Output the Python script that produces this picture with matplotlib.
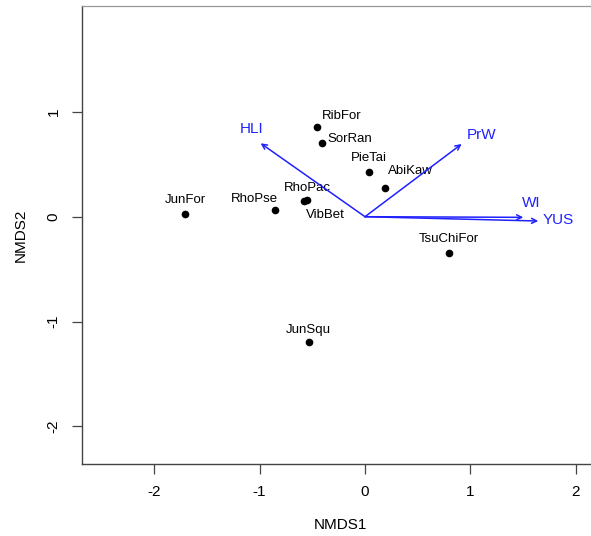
import matplotlib
matplotlib.use("Agg")
import matplotlib.pyplot as plt

plt.rcParams["font.family"] = ["Liberation Sans", "DejaVu Sans"]

# site scores (NMDS1, NMDS2)
species = ["JunFor", "RhoPse", "RhoPac", "VibBet", "RibFor",
           "SorRan", "PieTai", "AbiKaw", "TsuChiFor", "JunSqu"]
nmds1 = [-1.708, -0.854, -0.579, -0.553, -0.453, -0.408, 0.038, 0.190, 0.794, -0.534]
nmds2 = [0.026, 0.064, 0.153, 0.159, 0.852, 0.700, 0.423, 0.271, -0.343, -1.197]

# fitted environmental vectors
env_names = ["HLI", "PrW", "WI", "YUS"]
env_x = [-0.990, 0.917, 1.502, 1.644]
env_y = [0.700, 0.693, -0.006, -0.041]

# label placement (pixels from point / arrow tip)
label_offsets = [(0, 14), (-21, 11), (3, 13), (19, -15), (24, 11),
                 (28, 4), (0, 14), (25, 17), (0, 14), (0, 12)]
env_offsets = [(-9, 14), (20, 9), (8, 14), (20, 1)]

fig = plt.figure(figsize=(5.91, 5.36), dpi=100)
ax = fig.add_axes([81.7 / 591, 72.3 / 536, (600 - 81.7) / 591, 457.7 / 536])
ax.set_xlim(-2.688, 2.230)
ax.set_ylim(-2.355, 2.009)

ax.plot(nmds1, nmds2, "o", color="black", ms=4.5, ls="none")
for name, x, y, off in zip(species, nmds1, nmds2, label_offsets):
    ax.annotate(name, (x, y), xytext=off, textcoords="offset pixels",
                ha="center", va="center", fontsize=9.5, color="black")

for name, x, y, off in zip(env_names, env_x, env_y, env_offsets):
    ax.annotate("", xy=(x, y), xytext=(0, 0),
                arrowprops=dict(arrowstyle="->", color="#2020ff", lw=1.1,
                                shrinkA=0, shrinkB=0, mutation_scale=9))
    ax.annotate(name, (x, y), xytext=off, textcoords="offset pixels",
                ha="center", va="center", fontsize=11, color="#2020ff")

ax.set_xticks([-2, -1, 0, 1, 2])
ax.set_yticks([-2, -1, 0, 1])
ax.set_yticklabels(["-2", "-1", "0", "1"], rotation=90, va="center")
ax.set_xticklabels(["-2", "-1", "0", "1", "2"])
ax.tick_params(direction="out", length=7, width=0.9, color="#444444",
               labelsize=11, pad=8)
ax.set_xlabel("NMDS1", fontsize=11, labelpad=14)
ax.set_ylabel("NMDS2", fontsize=11, labelpad=14)

for side in ["left", "bottom", "right"]:
    ax.spines[side].set_color("#444444")
    ax.spines[side].set_linewidth(1.0)
ax.spines["top"].set_color("#999999")
ax.spines["top"].set_linewidth(0.9)

fig.savefig("out.png", dpi=100)
